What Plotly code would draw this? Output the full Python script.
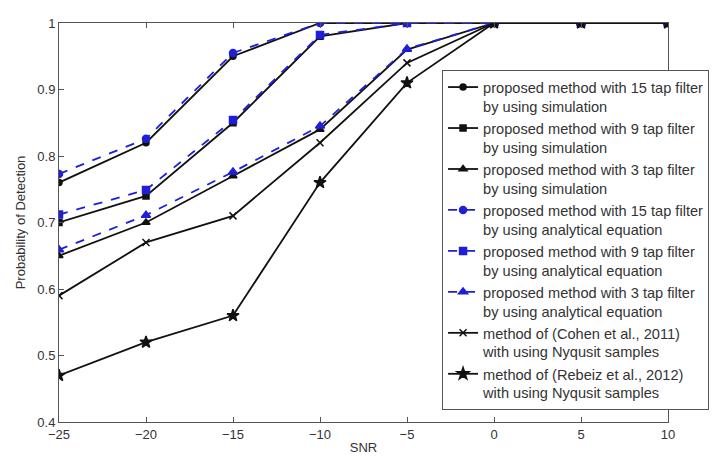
import plotly.graph_objects as go

snr = [-25, -20, -15, -10, -5, 0, 5, 10]

sim15 = [0.76, 0.82, 0.95, 1.0, 1.0, 1.0, 1.0, 1.0]
sim9 = [0.70, 0.74, 0.85, 0.98, 1.0, 1.0, 1.0, 1.0]
sim3 = [0.65, 0.70, 0.77, 0.84, 0.96, 1.0, 1.0, 1.0]
ana15 = [0.773, 0.826, 0.955, 1.0, 1.0, 1.0, 1.0, 1.0]
ana9 = [0.712, 0.749, 0.854, 0.982, 1.0, 1.0, 1.0, 1.0]
ana3 = [0.659, 0.711, 0.776, 0.845, 0.961, 1.0, 1.0, 1.0]
cohen = [0.59, 0.67, 0.71, 0.82, 0.94, 1.0, 1.0, 1.0]
rebeiz = [0.47, 0.52, 0.56, 0.76, 0.91, 1.0, 1.0, 1.0]

names = [
    "proposed method with 15 tap filter<br>by using simulation",
    "proposed method with 9 tap filter<br>by using simulation",
    "proposed method with 3 tap filter<br>by using simulation",
    "proposed method with 15 tap filter<br>by using analytical equation",
    "proposed method with 9 tap filter<br>by using analytical equation",
    "proposed method with 3 tap filter<br>by using analytical equation",
    "method of (Cohen et al., 2011)<br>with using Nyqusit samples",
    "method of (Rebeiz et al., 2012)<br>with using Nyqusit samples",
]

series = [sim15, sim9, sim3, ana15, ana9, ana3, cohen, rebeiz]
colors = ["#111111", "#111111", "#111111", "#1f1fd8", "#1f1fd8", "#1f1fd8", "#111111", "#111111"]
dashes = ["solid", "solid", "solid", "dash", "dash", "dash", "solid", "solid"]
symbols = ["circle", "square", "triangle-up", "circle", "square", "triangle-up", "x-thin-open", "star"]
sizes = [6, 6, 7, 7, 7, 8, 7, 9]

fig = go.Figure()
for ys, nm, c, d, s, sz in zip(series, names, colors, dashes, symbols, sizes):
    fig.add_trace(go.Scatter(
        x=snr, y=ys, name=nm, mode="lines+markers",
        line=dict(color=c, width=1.8, dash=d),
        marker=dict(symbol=s, size=sz, color=c, line=dict(color=c, width=1.5)),
    ))

axis_common = dict(
    showgrid=False, zeroline=False, showline=True, linecolor="#555555", linewidth=1,
    mirror="ticks", ticks="inside", ticklen=5, tickcolor="#555555", automargin=False,
    tickfont=dict(family="Liberation Sans, Arial", size=13, color="#333333"),
)

fig.update_layout(
    width=721, height=460,
    margin=dict(l=59, r=53, t=23, b=38),
    paper_bgcolor="white", plot_bgcolor="white",
    font=dict(family="Liberation Sans, Arial", color="#333333"),
    xaxis=dict(range=[-25, 10], tickvals=[-25, -20, -15, -10, -5, 0, 5, 10],
               title=dict(text="SNR", font=dict(size=13), standoff=2), **axis_common),
    yaxis=dict(range=[0.4, 1.0], tickvals=[0.4, 0.5, 0.6, 0.7, 0.8, 0.9, 1.0],
               ticktext=["0.4", "0.5", "0.6", "0.7", "0.8", "0.9", "1"],
               title=dict(text="Probability of Detection", font=dict(size=13), standoff=8), **axis_common),
    legend=dict(
        x=0.629, y=0.882, xanchor="left", yanchor="top",
        bgcolor="white", bordercolor="#555555", borderwidth=1,
        font=dict(family="Liberation Sans, Arial", size=14.6, color="#333333"),
        valign="top", itemwidth=30, tracegroupgap=0,
    ),
    showlegend=True,
)

fig.write_html("out.html", post_script="document.body.style.margin='0px';",
               config={"displayModeBar": False})
